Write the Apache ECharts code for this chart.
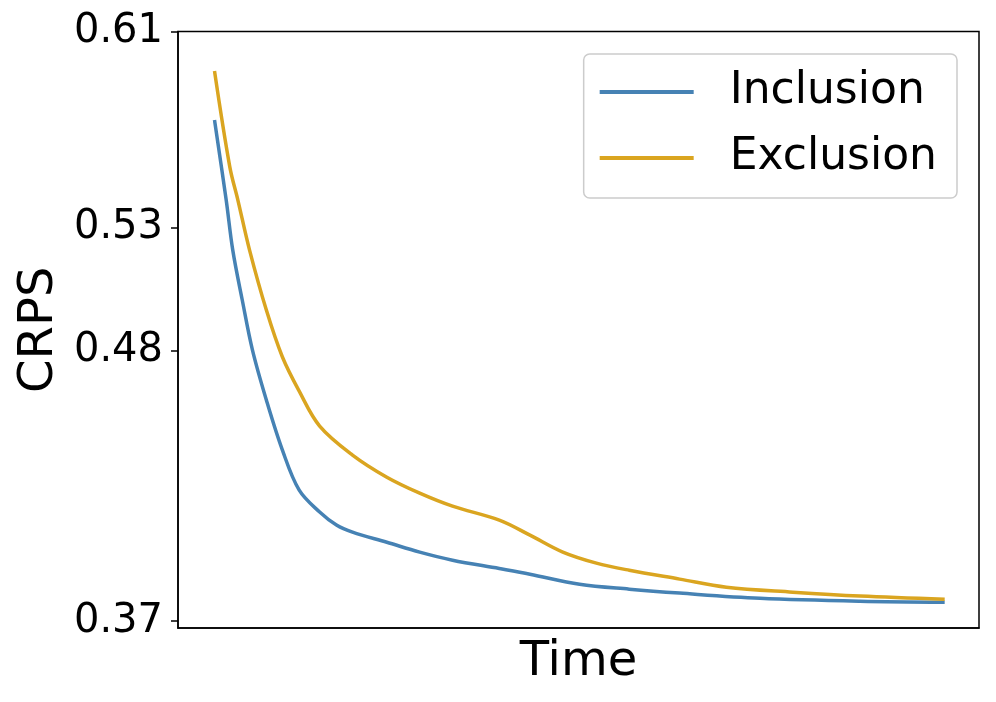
<!DOCTYPE html>
<html>
<head>
<meta charset="utf-8">
<script src="https://cdn.jsdelivr.net/npm/echarts@6/dist/echarts.min.js"></script>
<style>
    html, body {margin: 0; padding: 0; background: #fff;}
    #chart {width: 996px; height: 702px;}
</style>
</head>
<body>
<div id="chart"></div>
<script>
// values (time is in arbitrary units, 0..100)
const inclusionTime = [0, 1.6, 2.5, 3.8, 5.2, 7.1, 9.3, 11.6, 14.4, 16.7, 18.9, 23.6, 28.1, 32.6, 39.0, 43.2, 50.0, 56.8, 63.7, 74.7, 88.4, 100];
const inclusionCrps = [0.5740, 0.5414, 0.5210, 0.5007, 0.4803, 0.4600, 0.4396, 0.4233, 0.4144, 0.4091, 0.4062, 0.4021, 0.3981, 0.3948, 0.3914, 0.3891, 0.3850, 0.3830, 0.3814, 0.3793, 0.3781, 0.3777];

const exclusionTime = [0, 2.1, 3.2, 4.8, 7.1, 9.3, 11.6, 14.4, 18.9, 23.6, 28.1, 32.6, 39.0, 43.2, 47.7, 52.3, 56.8, 63.7, 70.1, 79.2, 88.4, 100];
const exclusionCrps = [0.5939, 0.5548, 0.5414, 0.5210, 0.4966, 0.4775, 0.4636, 0.4494, 0.4376, 0.4286, 0.4221, 0.4168, 0.4111, 0.4050, 0.3981, 0.3936, 0.3907, 0.3871, 0.3838, 0.3818, 0.3802, 0.3789];

const yTicks = [0.37, 0.48, 0.53, 0.61];

const font = 'DejaVu Sans';

function zip(xs, ys) {
    return xs.map((x, i) => [x, ys[i]]);
}

const chart = echarts.init(document.getElementById('chart'));
chart.setOption({
    animation: false,
    backgroundColor: '#fff',
    grid: {
        left: 178,
        right: 17,
        top: 31.5,
        bottom: 74,
        show: true,
        borderColor: '#000',
        borderWidth: 1.5
    },
    legend: {
        orient: 'vertical',
        right: 39,
        top: 54,
        padding: [12, 20, 14, 16],
        itemGap: 14,
        itemWidth: 94,
        itemHeight: 4,
        icon: 'rect',
        borderColor: '#cccccc',
        borderWidth: 1.5,
        borderRadius: 6,
        backgroundColor: '#fff',
        textStyle: {
            fontFamily: font,
            fontSize: 44,
            lineHeight: 52,
            color: '#000',
            padding: [0, 0, 0, 31]
        },
        data: ['Inclusion', 'Exclusion']
    },
    xAxis: {
        type: 'value',
        min: -5,
        max: 104.7,
        name: 'Time',
        nameLocation: 'middle',
        nameGap: 11,
        nameTextStyle: {fontFamily: font, fontSize: 48, color: '#000'},
        axisLine: {show: true, onZero: false, lineStyle: {color: '#000', width: 1.5}},
        axisTick: {show: false},
        axisLabel: {show: false},
        splitLine: {show: false}
    },
    yAxis: {
        type: 'value',
        min: 0.3672,
        max: 0.61,
        name: 'CRPS',
        nameLocation: 'middle',
        nameRotate: 90,
        nameGap: 113,
        nameTextStyle: {fontFamily: font, fontSize: 48, color: '#000'},
        axisLine: {show: true, onZero: false, lineStyle: {color: '#000', width: 1.5}},
        axisTick: {show: true, length: 7, lineStyle: {color: '#000', width: 1.5}, customValues: yTicks},
        axisLabel: {
            fontFamily: font,
            fontSize: 40,
            color: '#000',
            margin: 15,
            customValues: yTicks,
            formatter: v => v.toFixed(2)
        },
        splitLine: {show: false}
    },
    series: [
        {
            name: 'Inclusion',
            type: 'line',
            data: zip(inclusionTime, inclusionCrps),
            symbol: 'none',
            smooth: 0.35,
            lineStyle: {color: '#4682b4', width: 3.5},
            itemStyle: {color: '#4682b4'}
        },
        {
            name: 'Exclusion',
            type: 'line',
            data: zip(exclusionTime, exclusionCrps),
            symbol: 'none',
            smooth: 0.35,
            lineStyle: {color: '#daa520', width: 3.5},
            itemStyle: {color: '#daa520'}
        }
    ]
});
</script>
</body>
</html>
